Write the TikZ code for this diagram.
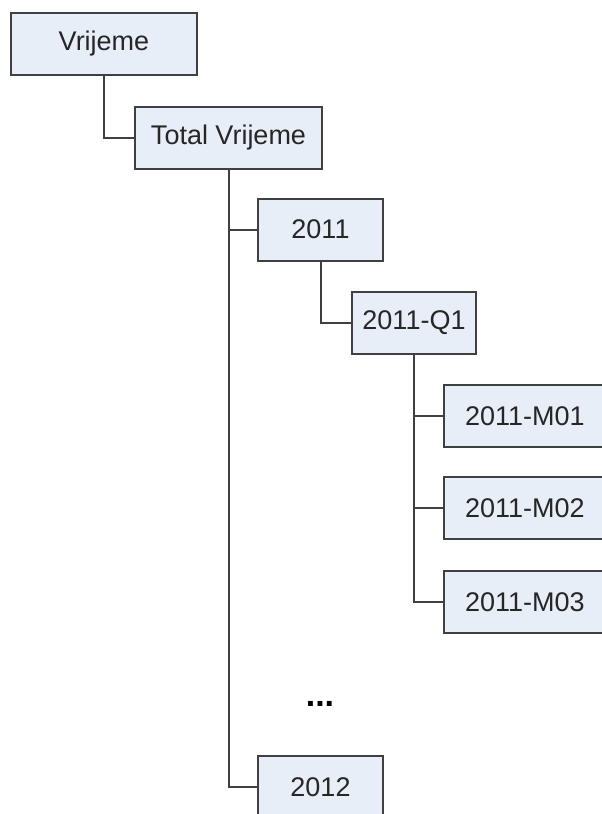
\documentclass[tikz,border=0pt]{standalone}
\usepackage{fontspec}
\setmainfont{Liberation Sans}
\definecolor{boxfill}{RGB}{232,238,247}
\definecolor{boxline}{RGB}{64,64,64}
\begin{document}
\begin{tikzpicture}[x=1pt,y=-1pt,
  box/.style={draw=boxline,line width=2pt,fill=boxfill,font=\fontsize{27}{32}\selectfont,
    minimum height=62pt,inner sep=0pt,text=black!85},
  mbox/.style={box,anchor=west,text width=158pt,inner xsep=21pt,align=left},
  conn/.style={draw=boxline,line width=2pt}]
\useasboundingbox (0,0) rectangle (602,814);
\clip (0,0) rectangle (602,814);
\node[box,minimum width=186pt] (vr) at (104,44) {Vrijeme};
\node[box,minimum width=187pt] (tv) at (228.5,137.5) {Total Vrijeme};
\node[box,minimum width=125pt] (y11) at (320.5,229.5) {2011};
\node[box,minimum width=124pt] (q1) at (414,323) {2011-Q1};
\node[mbox] (m1) at (443,416) {2011-M01};
\node[mbox] (m2) at (443,508) {2011-M02};
\node[mbox] (m3) at (443,602) {2011-M03};
\node[font=\fontsize{34}{40}\selectfont\bfseries] (dots) at (320,704) {...};
\node[box,minimum width=125pt] (y12) at (320.5,787) {2012};
\draw[conn] (vr.south) |- (tv.west);
\draw[conn] (tv.south) |- (y11.west);
\draw[conn] (tv.south) |- (y12.west);
\draw[conn] (y11.south) |- (q1.west);
\draw[conn] (q1.south) |- (m1.west);
\draw[conn] (q1.south) |- (m2.west);
\draw[conn] (q1.south) |- (m3.west);
\end{tikzpicture}
\end{document}
